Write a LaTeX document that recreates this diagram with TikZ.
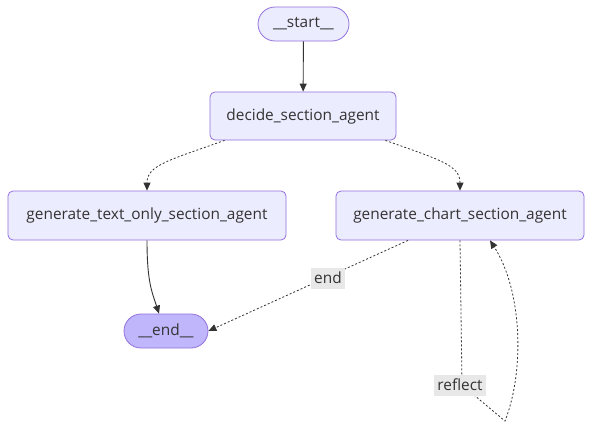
\documentclass[tikz,border=0pt]{standalone}
\usepackage{fontspec}
\setmainfont{Open Sans}
\usetikzlibrary{arrows.meta}
\definecolor{nodefill}{HTML}{ECECFF}
\definecolor{nodedraw}{HTML}{9370DB}
\definecolor{endfill}{HTML}{BFB6FC}
\definecolor{txt}{HTML}{333333}
\definecolor{lblfill}{HTML}{E8E8E8}
\tikzset{
  box/.style={draw=nodedraw, fill=nodefill, rounded corners=5pt, line width=0.8pt,
    minimum height=49pt, inner sep=0pt, text=txt, font=\fontsize{15.4}{18}\selectfont},
  pill/.style={draw=nodedraw, fill=nodefill, rounded corners=17pt, line width=0.8pt,
    minimum height=34pt, inner sep=0pt, text=txt, font=\fontsize{15.4}{18}\selectfont},
  solidedge/.style={draw=txt, line width=0.9pt, -{Triangle[length=8pt,width=7pt]}},
  dotedge/.style={draw=txt, line width=0.8pt, dash pattern=on 2pt off 2pt, -{Triangle[length=8pt,width=7pt]}},
  lbl/.style={fill=lblfill, text=txt, inner xsep=3pt, minimum height=21pt, inner ysep=0pt, font=\fontsize{15.4}{18}\selectfont}
}
\begin{document}
\begin{tikzpicture}[x=1pt,y=-1pt]
\useasboundingbox[fill=white] (0,0) rectangle (593,431);
\node[pill, minimum width=91pt] (start) at (303.5,24) {\_\_start\_\_};
\node[box, minimum width=186pt, minimum height=48pt] (decide) at (303,116) {decide\_section\_agent};
\node[box, minimum width=278pt] (textonly) at (147,215.5) {generate\_text\_only\_section\_agent};
\node[box, minimum width=248pt] (chart) at (460,215.5) {generate\_chart\_section\_agent};
\node[pill, fill=endfill, minimum width=84pt] (end) at (166,331) {\_\_end\_\_};

\draw[solidedge] (start) -- (decide);
\draw[dotedge] ([xshift=15pt]decide.south west) .. controls (170,160) and (147,165) .. (textonly.north);
\draw[dotedge] ([xshift=-11pt]decide.south east) .. controls (440,160) and (460,165) .. (chart.north);
\draw[solidedge] ([xshift=0pt]textonly.south) .. controls (147,282) and (152,292) .. ([xshift=-7pt]end.north);
\draw[dotedge] ([xshift=-52pt]chart.south) -- (end.east);
\node[lbl] (endlbl) at (328,278) {end};
\coordinate (loopbot) at (505,421);
\draw[dotedge] (chart.south) -- (462,385) -- (loopbot) .. controls (525,370) and (522,290) .. ([xshift=30pt]chart.south);
\node[lbl] (reflectlbl) at (460,385) {reflect};
\end{tikzpicture}
\end{document}
